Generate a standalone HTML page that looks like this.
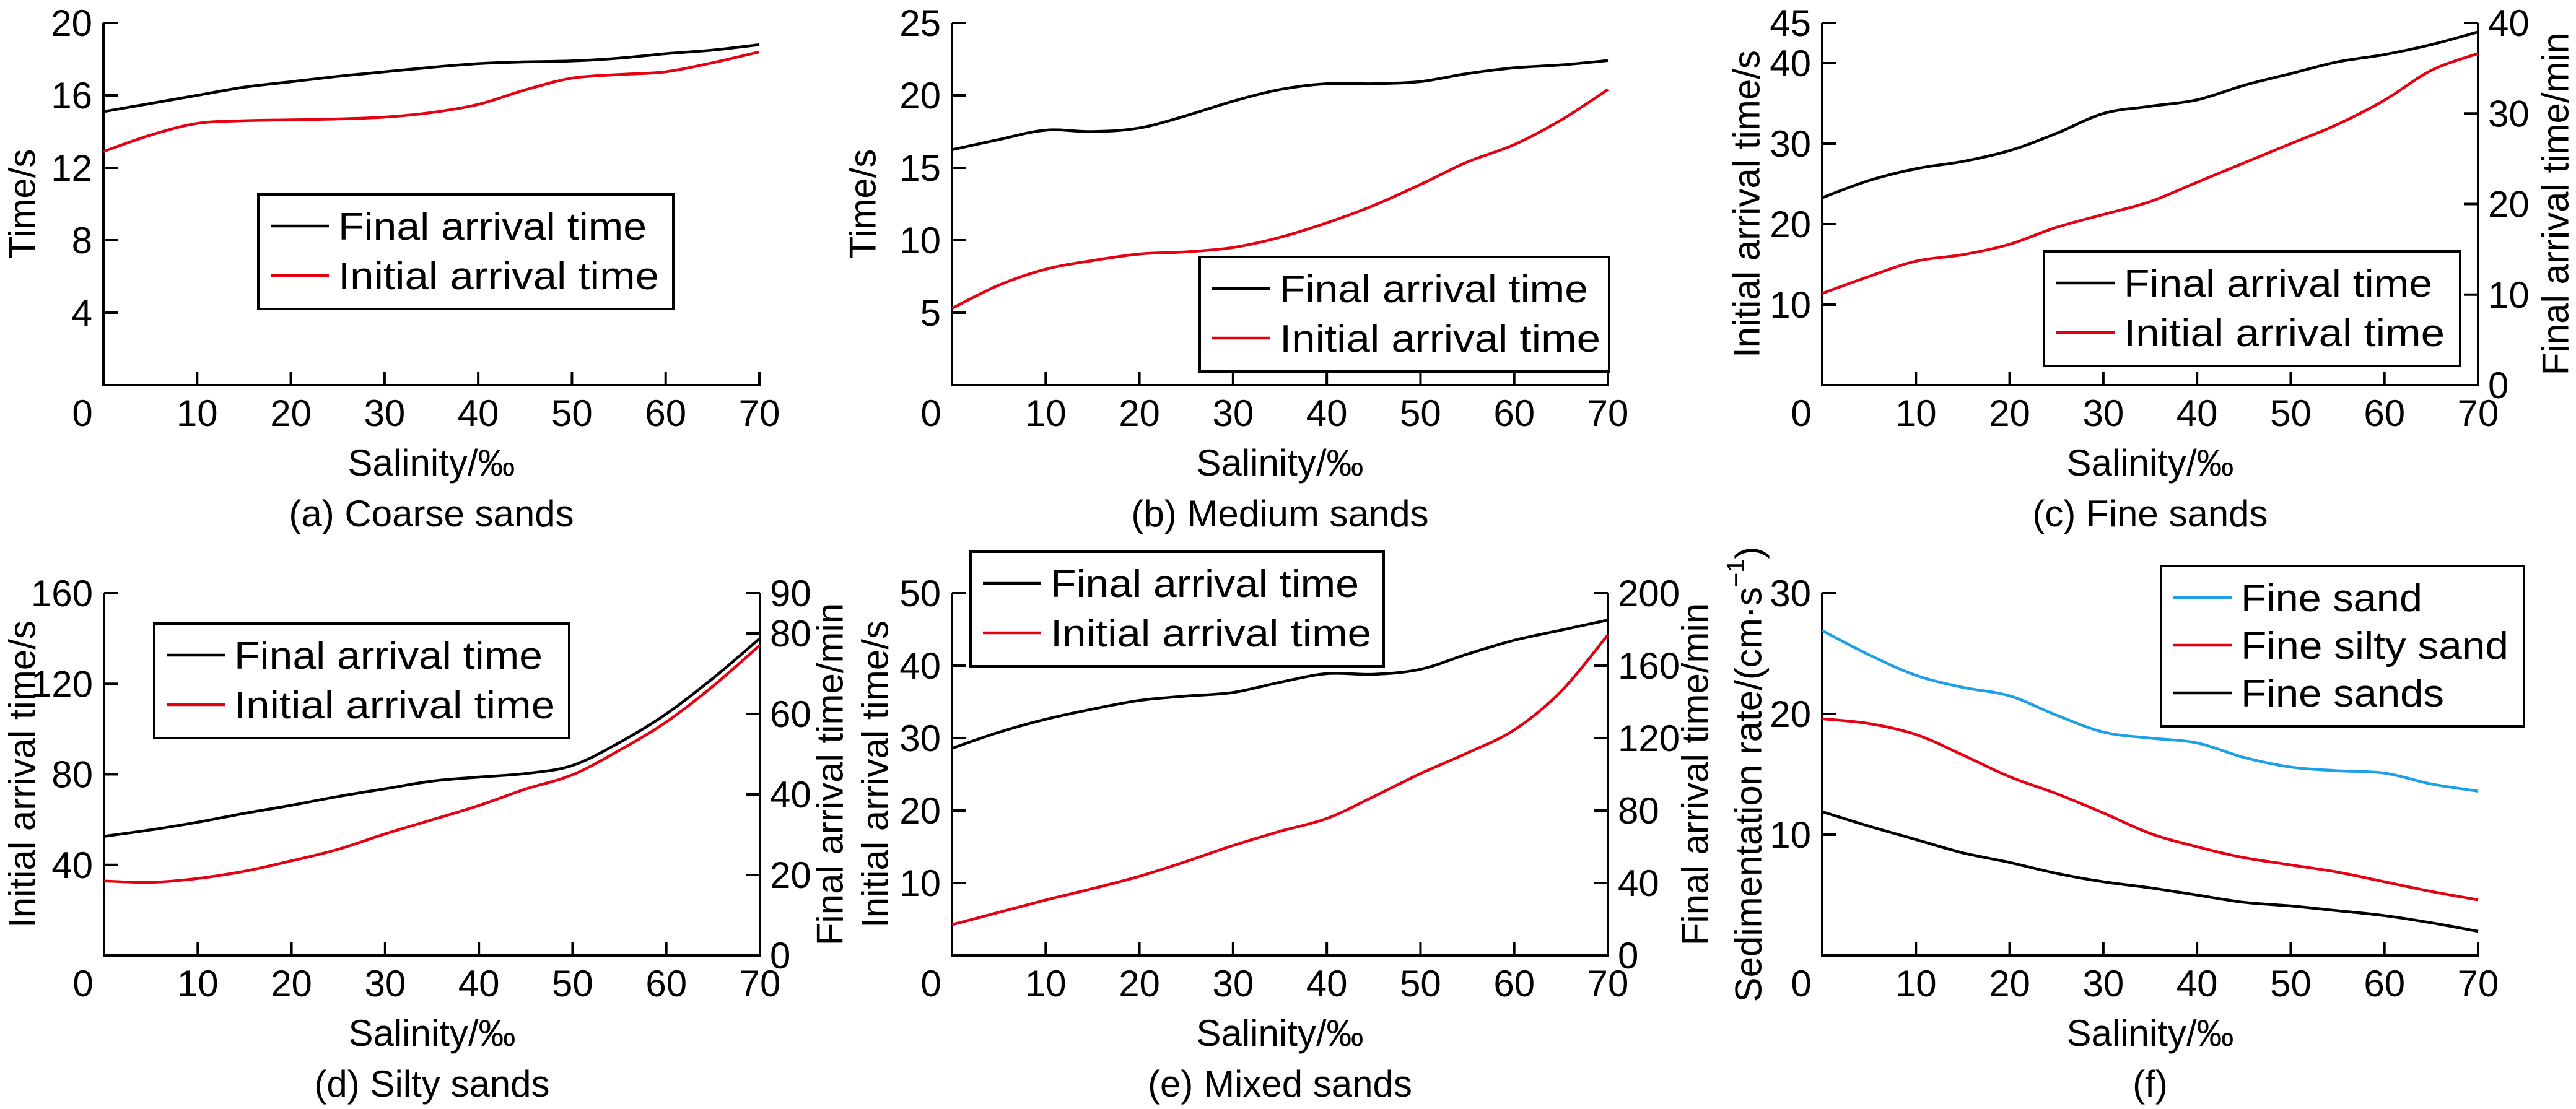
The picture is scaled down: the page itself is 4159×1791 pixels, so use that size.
<!DOCTYPE html>
<html><head><meta charset="utf-8"><style>
html,body{margin:0;padding:0;background:#fff;}
svg{display:block;}
text{font-family:"Liberation Sans",Arial,sans-serif;fill:#000;}
</style></head><body>
<svg id="fig" xmlns="http://www.w3.org/2000/svg" width="4159" height="1791" viewBox="0 0 4159 1791"></svg>
<script>
// ---- data ----
const salinity = [0,5,10,15,20,25,30,35,40,45,50,55,60,65,70];
const xTicks = [0,10,20,30,40,50,60,70];
// (a) coarse sands
const aFinal   = [15.1,15.55,16.0,16.45,16.75,17.05,17.3,17.55,17.75,17.85,17.9,18.05,18.3,18.5,18.8];
const aInitial = [12.9,13.8,14.45,14.6,14.65,14.7,14.8,15.05,15.5,16.3,16.95,17.15,17.3,17.8,18.4];
const aTicks = [4,8,12,16,20];
// (b) medium sands
const bFinal   = [16.25,16.95,17.6,17.5,17.75,18.6,19.6,20.4,20.8,20.8,20.95,21.5,21.9,22.1,22.4];
const bInitial = [5.3,6.9,8.0,8.6,9.05,9.2,9.5,10.2,11.2,12.4,13.85,15.4,16.6,18.3,20.4];
const bTicks = [5,10,15,20,25];
// (c) fine sands: final on right axis (min), initial on left axis (s)
const cFinal   = [20.7,22.6,23.9,24.7,25.9,27.8,30.0,30.8,31.5,33.1,34.4,35.7,36.5,37.6,39.0];
const cInitial = [11.4,13.5,15.4,16.2,17.5,19.6,21.2,22.8,25.2,27.6,30.0,32.4,35.4,39.1,41.2];
const cTicksL = [10,20,30,40,45];
const cTicksR = [0,10,20,30,40];
// (d) silty sands: final right axis, initial left axis
const dFinal   = [29.6,31.2,33.1,35.3,37.3,39.5,41.4,43.3,44.3,45.2,47.2,52.9,60.0,68.9,78.8];
const dInitial = [32.9,32.3,34.0,37.2,41.8,46.9,53.7,59.9,66.2,73.5,79.8,90.6,103.1,119.0,137.1];
const dTicksL = [40,80,120,160];
const dTicksR = [0,20,40,60,80,90];
// (e) mixed sands: final left axis, initial right axis
const eFinal   = [28.6,30.8,32.6,34.0,35.2,35.8,36.3,37.7,38.9,38.8,39.5,41.6,43.5,44.9,46.3];
const eInitial = [17.0,23.8,30.6,36.9,43.7,51.9,60.7,68.5,75.6,87.7,100.4,111.8,124.5,145.8,177.0];
const eTicksL = [10,20,30,40,50];
const eTicksR = [0,40,80,120,160,200];
// (f) sedimentation rate
const fFineSand  = [26.9,24.9,23.2,22.2,21.5,19.9,18.5,18.0,17.6,16.4,15.6,15.3,15.1,14.2,13.6];
const fSiltySand = [19.6,19.2,18.3,16.6,14.8,13.4,11.8,10.1,9.0,8.1,7.5,6.9,6.1,5.3,4.6];
const fFineSands = [11.9,10.7,9.6,8.5,7.7,6.8,6.1,5.6,5.0,4.4,4.1,3.7,3.3,2.7,2.0];
const fTicks = [10,20,30];

const RED = '#e60012', BLUE = '#1ea0e6', BLACK = '#000';
const svg = document.getElementById('fig');
const NS = 'http://www.w3.org/2000/svg';
function el(tag, attrs, parent){
  const e = document.createElementNS(NS, tag);
  for (const k in attrs) e.setAttribute(k, attrs[k]);
  (parent||svg).appendChild(e);
  return e;
}
function smoothPath(pts){
  let d = 'M' + pts[0][0].toFixed(1) + ',' + pts[0][1].toFixed(1);
  for (let i=0;i<pts.length-1;i++){
    const p0 = pts[Math.max(i-1,0)], p1 = pts[i], p2 = pts[i+1], p3 = pts[Math.min(i+2,pts.length-1)];
    const c1x = p1[0]+(p2[0]-p0[0])/6, c1y = p1[1]+(p2[1]-p0[1])/6;
    const c2x = p2[0]-(p3[0]-p1[0])/6, c2y = p2[1]-(p3[1]-p1[1])/6;
    d += ' C'+c1x.toFixed(1)+','+c1y.toFixed(1)+' '+c2x.toFixed(1)+','+c2y.toFixed(1)+' '+p2[0].toFixed(1)+','+p2[1].toFixed(1);
  }
  return d;
}

const W = 1059, H = 585;
function panel(cfg){
  const g = el('g', {});
  
  
  const ox = cfg.ox, oy = cfg.oy;
  const xs = v => ox + v/70*W;
  const yL = v => oy - (v - cfg.lmin)/(cfg.lmax - cfg.lmin)*H;
  const yR = cfg.rmax !== undefined ? (v => oy - v/cfg.rmax*H) : null;
  // axes
  const ax = el('path', {d:`M${ox},${oy-H} L${ox},${oy} L${ox+W},${oy}` + (cfg.rmax!==undefined ? ` L${ox+W},${oy-H}` : ` L${ox+W},${oy-22}`), fill:'none', stroke:'#000','stroke-width':4}, g);
  
  
  // x ticks & labels
  xTicks.forEach(t => {
    if (t>0 && t<70) el('line', {x1:xs(t),y1:oy,x2:xs(t),y2:oy-22,stroke:'#000','stroke-width':4}, g);
    const tx = el('text', {x: t===0 ? ox-34 : xs(t), y: oy+66, 'font-size':60, 'text-anchor':'middle'}, g);
    tx.textContent = t;
    
    
  });
  // left ticks
  cfg.lticks.forEach(t => {
    el('line', {x1:ox,y1:yL(t),x2:ox+23,y2:yL(t),stroke:'#000','stroke-width':4}, g);
    const tx = el('text', {x:ox-18, y:yL(t)+21, 'font-size':60, 'text-anchor':'end'}, g);
    tx.textContent = t;
    
    
  });
  if (yR){
    cfg.rticks.forEach(t => {
      if (t>0) el('line', {x1:ox+W,y1:yR(t),x2:ox+W-23,y2:yR(t),stroke:'#000','stroke-width':4}, g);
      const tx = el('text', {x:ox+W+16, y:yR(t)+21, 'font-size':60, 'text-anchor':'start'}, g);
      tx.textContent = t;
      
      
    });
  }
  // series
  cfg.series.forEach(s => {
    const yf = s.axis === 'r' ? yR : yL;
    const pts = salinity.map((x,i) => [xs(x), yf(s.data[i])]);
    const p = el('path', {d:smoothPath(pts), fill:'none', stroke:s.color, 'stroke-width':4.5, 'stroke-linejoin':'round'}, g);
    
    
  });
  // x label + caption
  const xl = el('text', {x:ox+W/2, y:oy+146, 'font-size':60, 'text-anchor':'middle'}, g);
  xl.textContent = 'Salinity/‰';
  
  
  const cap = el('text', {x:ox+W/2, y:oy+228, 'font-size':60, 'text-anchor':'middle'}, g);
  cap.textContent = cfg.caption;
  
  
  // y labels
  const cy = oy - H/2;
  const lx = cfg.llabelX;
  const yl = el('text', {x:lx, y:cy, 'font-size':60, 'text-anchor':'middle', transform:`rotate(-90 ${lx} ${cy})`, 'dominant-baseline':'central'}, g);
  if (cfg.sup){
    yl.textContent = cfg.llabel;
    const ts = el('tspan', {'font-size':40, dy:-20}, yl); ts.textContent = '−1';
    const ts2 = el('tspan', {dy:20}, yl); ts2.textContent = ')';
  } else yl.textContent = cfg.llabel;
  
  
  if (cfg.rlabel){
    const rx = cfg.rlabelX;
    const yr = el('text', {x:rx, y:cy, 'font-size':60, 'text-anchor':'middle', transform:`rotate(-90 ${rx} ${cy})`, 'dominant-baseline':'central'}, g);
    yr.textContent = cfg.rlabel;
    
    
  }
  // legend
  const L = cfg.legend;
  const lg = el('g', {}, g);
  
  
  el('rect', {x:L.x, y:L.y, width:L.w, height:L.h, fill:'#fff', stroke:'#000', 'stroke-width':4}, lg);
  L.items.forEach((it,i) => {
    const ry = L.y + 51 + i*L.step;
    el('line', {x1:L.x+20, y1:ry, x2:L.x+114, y2:ry, stroke:it.color, 'stroke-width':4.5}, lg);
    const t = el('text', {x:L.x+129, y:ry+22, 'font-size':62, textLength:it.len, lengthAdjust:'spacingAndGlyphs'}, lg);
    t.textContent = it.label;
    
    
  });
}

const leg2 = (x,y,w,flen,ilen) => ({x:x,y:y,w:w,h:185,step:80,items:[{label:'Final arrival time',color:BLACK,len:flen},{label:'Initial arrival time',color:RED,len:ilen}]});

panel({id:'a', ox:167, oy:622, lmin:0, lmax:20, lticks:aTicks, caption:'(a) Coarse sands',
  llabel:'Time/s', llabelX:36,
  series:[{data:aFinal,color:BLACK,name:'line-final-a'},{data:aInitial,color:RED,name:'line-initial-a'}],
  legend:leg2(417,314,670,498,518)});
panel({id:'b', ox:1537, oy:622, lmin:0, lmax:25, lticks:bTicks, caption:'(b) Medium sands',
  llabel:'Time/s', llabelX:1393,
  series:[{data:bFinal,color:BLACK,name:'line-final-b'},{data:bInitial,color:RED,name:'line-initial-b'}],
  legend:leg2(1937,415,661,498,518)});
panel({id:'c', ox:2942, oy:622, lmin:0, lmax:45, lticks:cTicksL, rmax:40, rticks:cTicksR, caption:'(c) Fine sands',
  llabel:'Initial arrival time/s', llabelX:2820, rlabel:'Final arrival time/min', rlabelX:4126,
  series:[{data:cFinal,color:BLACK,axis:'r',name:'line-final-c'},{data:cInitial,color:RED,name:'line-initial-c'}],
  legend:leg2(3300,406,672,498,518)});
panel({id:'d', ox:168, oy:1543, lmin:0, lmax:160, lticks:dTicksL, rmax:90, rticks:dTicksR, caption:'(d) Silty sands',
  llabel:'Initial arrival time/s', llabelX:36, rlabel:'Final arrival time/min', rlabelX:1340,
  series:[{data:dFinal,color:BLACK,axis:'r',name:'line-final-d'},{data:dInitial,color:RED,name:'line-initial-d'}],
  legend:leg2(249,1007,670,498,518)});
panel({id:'e', ox:1537, oy:1543, lmin:0, lmax:50, lticks:eTicksL, rmax:200, rticks:eTicksR, caption:'(e) Mixed sands',
  llabel:'Initial arrival time/s', llabelX:1413, rlabel:'Final arrival time/min', rlabelX:2737,
  series:[{data:eFinal,color:BLACK,name:'line-final-e'},{data:eInitial,color:RED,axis:'r',name:'line-initial-e'}],
  legend:leg2(1567,891,667,498,518)});
panel({id:'f', ox:2942, oy:1543, lmin:0, lmax:30, lticks:fTicks, caption:'(f)',
  llabel:'Sedimentation rate/(cm·s', llabelX:2823, sup:true,
  series:[{data:fFineSand,color:BLUE,name:'line-fine-sand'},{data:fSiltySand,color:RED,name:'line-fine-silty-sand'},{data:fFineSands,color:BLACK,name:'line-fine-sands'}],
  legend:{x:3489,y:914,w:586,h:259,step:77,items:[{label:'Fine sand',color:BLUE,len:293},{label:'Fine silty sand',color:RED,len:432},{label:'Fine sands',color:BLACK,len:328}]}});
</script>
</body></html>
